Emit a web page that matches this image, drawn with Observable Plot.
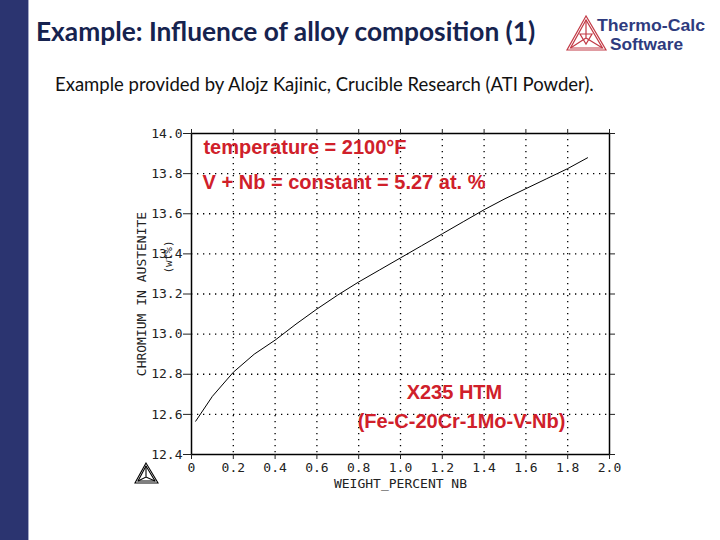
<!DOCTYPE html>
<html><head><meta charset="utf-8">
<script src="https://cdn.jsdelivr.net/npm/d3@7"></script>
<script src="https://cdn.jsdelivr.net/npm/@observablehq/plot@0.6"></script>
<style>
body{margin:0;background:#fff;}
#page{position:relative;width:720px;height:540px;overflow:hidden;background:#fff;}
#bar{position:absolute;left:0;top:0;width:28px;height:540px;background:#2b3470;}
#bar2{position:absolute;left:28px;top:0;width:1px;height:540px;background:#a3a8c6;}
#title{position:absolute;left:36px;top:15px;font-family:Lato,'Open Sans',sans-serif;font-weight:bold;font-size:26.3px;color:#16234f;white-space:nowrap;}
#subtitle{position:absolute;left:55px;top:73px;font-family:Lato,'Open Sans',sans-serif;font-size:18.5px;color:#111;white-space:nowrap;}
#chart{position:absolute;left:0;top:0;}
#logo{position:absolute;left:0;top:0;}
</style>
</head><body>
<div id="page">
  <div id="chart"></div>
  <div id="bar"></div><div id="bar2"></div>
  <div id="title">Example: Influence of alloy composition (1)</div>
  <div id="subtitle">Example provided by Alojz Kajinic, Crucible Research (ATI Powder).</div>
  <svg id="logo" width="720" height="540" style="pointer-events:none">
    <g fill="none" stroke="#c23a46" stroke-width="1.2">
      <path d="M586,16 L567,50 L606,50 Z"/>
      <path d="M586,20 L570.5,48 L602.5,48 Z"/>
      <path d="M586,20 L586,38 M570.5,48 L586,38 L602.5,48"/>
      <path d="M580,34 L592,34 L586,44 Z"/>
    </g>
    <text x="597" y="31" textLength="108" lengthAdjust="spacingAndGlyphs" font-family="'Liberation Sans',Arial,sans-serif" font-weight="bold" font-size="16" fill="#2e3b7e">Thermo-Calc</text>
    <text x="610" y="49.5" textLength="73" lengthAdjust="spacingAndGlyphs" font-family="'Liberation Sans',Arial,sans-serif" font-weight="bold" font-size="16" fill="#2e3b7e">Software</text>
    <g fill="none" stroke="#000" stroke-width="1.1">
      <path d="M146,463 L135,483 L158,483 Z"/>
      <path d="M146,466 L138,481 L155,481 Z"/>
      <path d="M146,466 L146,477 M138,481 L146,477 L155,481"/>
    </g>
  </svg>
</div>
<script>
// Data
const xValues = [0.02, 0.1, 0.2, 0.3, 0.4, 0.5, 0.6, 0.7, 0.8, 0.9, 1.0, 1.1, 1.2, 1.3, 1.4, 1.5, 1.6, 1.7, 1.8, 1.895];
const crValues = [12.566, 12.69, 12.81, 12.9, 12.97, 13.05, 13.125, 13.195, 13.26, 13.32, 13.38, 13.44, 13.5, 13.56, 13.62, 13.675, 13.725, 13.775, 13.825, 13.879];
const xTicks = [0, 0.2, 0.4, 0.6, 0.8, 1.0, 1.2, 1.4, 1.6, 1.8, 2.0];
const yTicks = [12.4, 12.6, 12.8, 13.0, 13.2, 13.4, 13.6, 13.8, 14.0];
const xGrid = [0.2, 0.4, 0.6, 0.8, 1.0, 1.2, 1.4, 1.6, 1.8];
const yGrid = [12.6, 12.8, 13.0, 13.2, 13.4, 13.6, 13.8];
const xAxisLabel = "WEIGHT_PERCENT NB";
const yAxisLabel = "CHROMIUM IN AUSTENITE";
const yUnitLabel = "(wt%)";
const leftNotes = ["temperature = 2100°F", "V + Nb = constant = 5.27 at. %"];
const leftNotesX = [0.057, 0.053];
const leftNotesY = [13.93, 13.757];
const centerNotes = ["X235 HTM", "(Fe-C-20Cr-1Mo-V-Nb)"];
const centerNotesX = [1.258, 1.292];
const centerNotesY = [12.711, 12.564];

const curve = xValues.map((x, i) => ({x, y: crValues[i]}));
const leftData = leftNotes.map((t, i) => ({t, x: leftNotesX[i], y: leftNotesY[i]}));
const centerData = centerNotes.map((t, i) => ({t, x: centerNotesX[i], y: centerNotesY[i]}));
const fmtX = d => d === 0 ? "0" : d.toFixed(1);
const fmtY = d => d.toFixed(1);
const red = "#d0202a";
const noteFont = "'Liberation Sans', Arial, sans-serif";

const chart = Plot.plot({
  width: 720, height: 540,
  marginLeft: 191, marginRight: 111, marginTop: 133, marginBottom: 86,
  x: {domain: [0, 2]},
  y: {domain: [12.4, 14.0]},
  style: {fontFamily: "'DejaVu Sans Mono', monospace", fontSize: "13px", color: "#222", background: "transparent"},
  marks: [
    Plot.gridX(xGrid, {stroke: "#000", strokeOpacity: 1, strokeDasharray: "1.3,4.7", strokeWidth: 1.3}),
    Plot.gridY(yGrid, {stroke: "#000", strokeOpacity: 1, strokeDasharray: "1.3,4.7", strokeWidth: 1.3}),
    Plot.frame({stroke: "#000", strokeWidth: 1.5}),
    Plot.axisX({ticks: xTicks, tickSize: 5, tickPadding: 3, tickFormat: fmtX, label: null}),
    Plot.axisX({anchor: "top", ticks: xTicks, tickSize: 5, tickFormat: () => "", label: null}),
    Plot.axisY({ticks: yTicks, tickSize: 8, tickPadding: 1, tickFormat: fmtY, label: null}),
    Plot.axisY({anchor: "right", ticks: yTicks, tickSize: 5, tickFormat: () => "", label: null}),
    Plot.line(curve, {x: "x", y: "y", stroke: "#000", strokeWidth: 1}),
    Plot.text([xAxisLabel], {frameAnchor: "bottom", dy: 33, textAnchor: "middle", fill: "#222"}),
    Plot.text([yAxisLabel], {frameAnchor: "left", dx: -50, textAnchor: "middle", rotate: -90, fill: "#222"}),
    Plot.text([yUnitLabel], {frameAnchor: "left", dx: -23, dy: -37, textAnchor: "middle", rotate: -90, fontSize: 11, fill: "#222"}),
    Plot.text(leftData, {x: "x", y: "y", text: "t", textAnchor: "start", fill: red, fontWeight: "bold", fontSize: 20, fontFamily: noteFont}),
    Plot.text(centerData, {x: "x", y: "y", text: "t", textAnchor: "middle", fill: red, fontWeight: "bold", fontSize: 20, fontFamily: noteFont})
  ]
});
document.getElementById("chart").appendChild(chart);
</script>
</body></html>
